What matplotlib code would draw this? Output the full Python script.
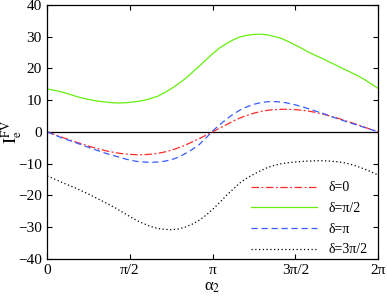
import numpy as np
import matplotlib
matplotlib.use("Agg")
import matplotlib.pyplot as plt

plt.rcParams['font.family'] = ['Liberation Serif', 'DejaVu Serif']
plt.rcParams['mathtext.fontset'] = 'stix'

# alpha_2 sampled every pi/24 from 0 to 2pi
alpha2 = np.arange(49) * np.pi / 24

I_d0 = [0, -0.8, -1.6, -2.35, -3.1, -3.8, -4.5, -5.1, -5.7, -6.2, -6.6, -6.9, -7.1,
        -7.2, -7.2, -7.05, -6.8, -6.35, -5.8, -5.05, -4.2, -3.2, -2.2, -1.1, 0,
        1.15, 2.3, 3.4, 4.4, 5.2, 5.9, 6.4, 6.8, 7.0, 7.1, 7.1, 7.0,
        6.8, 6.5, 6.1, 5.6, 5.0, 4.4, 3.7, 3.0, 2.25, 1.5, 0.75, 0]
I_dpi2 = [13.5, 13.1, 12.6, 12.0, 11.3, 10.7, 10.2, 9.8, 9.5, 9.25, 9.1, 9.1, 9.3,
          9.55, 9.9, 10.5, 11.2, 12.3, 13.6, 15.1, 16.7, 18.6, 20.6, 22.6, 24.6,
          26.4, 27.8, 29.0, 29.9, 30.4, 30.7, 30.75, 30.5, 30.0, 29.4, 28.4, 27.3,
          26.2, 25.0, 24.0, 23.0, 21.9, 20.9, 19.8, 18.8, 17.7, 16.5, 15.1, 13.7]
I_dpi = [0, -0.9, -1.8, -2.55, -3.3, -4.1, -4.9, -5.65, -6.4, -7.1, -7.7, -8.35, -8.9,
         -9.3, -9.5, -9.6, -9.5, -9.25, -8.8, -8.0, -6.9, -5.6, -4.1, -2.0, 0.3,
         2.2, 4.0, 5.6, 6.9, 7.9, 8.7, 9.2, 9.5, 9.5, 9.4, 9.0, 8.5,
         7.9, 7.2, 6.5, 5.8, 5.0, 4.2, 3.5, 2.8, 2.1, 1.4, 0.7, 0]
I_d3pi2 = [-13.9, -14.8, -15.8, -16.7, -17.6, -18.6, -19.6, -20.7, -21.8, -22.9, -24.1, -25.4, -26.7,
           -27.9, -28.9, -29.8, -30.4, -30.7, -30.8, -30.6, -30.0, -29.1, -27.9, -26.3, -24.4,
           -22.3, -20.0, -18.0, -16.0, -14.5, -13.3, -12.2, -11.2, -10.5, -10.0, -9.7, -9.5,
           -9.3, -9.2, -9.1, -9.1, -9.2, -9.4, -9.7, -10.2, -10.9, -11.7, -12.6, -13.6]

labels = ['δ=0', 'δ=π/2', 'δ=π', 'δ=3π/2']
xtick_labels = ['0', 'π/2', 'π', '3π/2', '2π']

fig = plt.figure(figsize=(3.87, 3.0), dpi=100)
ax = fig.add_axes([0.122, 0.137, 0.855, 0.847])

ax.axhline(0, color='black', lw=0.9)
ax.plot(alpha2, I_d0, color='#ff2a2a', lw=0.9, ls=(0, (6, 2, 1.5, 2)), label=labels[0])
ax.plot(alpha2, I_dpi2, color='#66ee11', lw=0.9, ls='-', label=labels[1])
ax.plot(alpha2, I_dpi, color='#3a5cff', lw=0.9, ls=(0, (5, 3)), label=labels[2])
ax.plot(alpha2, I_d3pi2, color='black', lw=0.9, ls=(0, (1, 2)), label=labels[3])

ax.set_xlim(0, 2 * np.pi)
ax.set_ylim(-40, 40)
ax.set_xticks(np.arange(5) * np.pi / 2)
ax.set_xticklabels(xtick_labels)
ax.set_yticks(np.arange(-40, 41, 10))
ax.tick_params(direction='in', top=True, right=True, length=3.5, width=0.8,
               labelsize=11, pad=4)
for s in ax.spines.values():
    s.set_linewidth(0.9)

ax.set_xlabel('α$_2$', fontsize=12, labelpad=1)
ax.set_ylabel(r'$\mathrm{I}_{\mathrm{e}}^{\mathrm{FV}}$', fontsize=13)
ax.yaxis.set_label_coords(-0.07, 0.5)

ax.legend(loc='lower right', frameon=False, fontsize=10, handlelength=4.8,
          labelspacing=0.55, bbox_to_anchor=(0.985, -0.012), borderaxespad=0.0)

fig.savefig('out.png', dpi=100)
